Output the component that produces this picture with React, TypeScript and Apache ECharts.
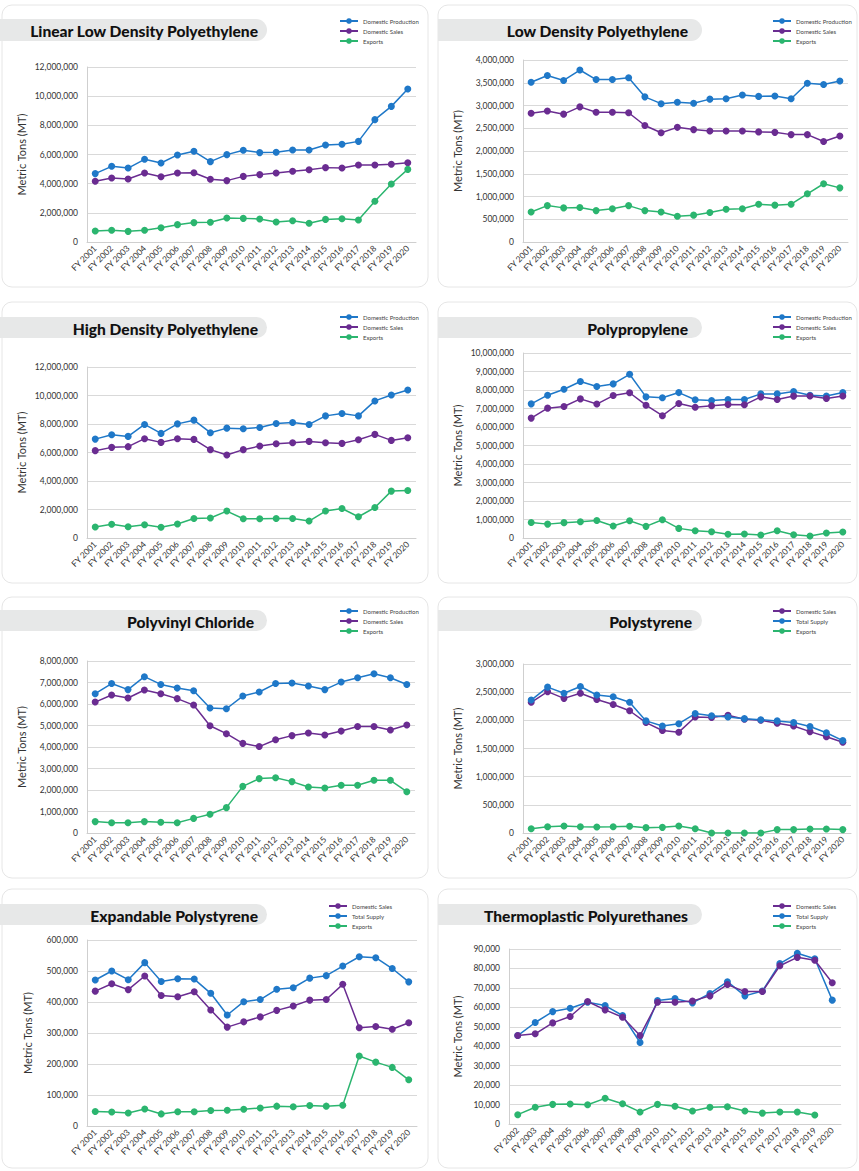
import React, { useEffect, useRef } from "react";
import * as echarts from "echarts";

// ---------- categories ----------
const YEARS_2001_2020 = [
  "FY 2001", "FY 2002", "FY 2003", "FY 2004", "FY 2005", "FY 2006", "FY 2007",
  "FY 2008", "FY 2009", "FY 2010", "FY 2011", "FY 2012", "FY 2013", "FY 2014",
  "FY 2015", "FY 2016", "FY 2017", "FY 2018", "FY 2019", "FY 2020",
];
const YEARS_2002_2020 = YEARS_2001_2020.slice(1);

// ---------- Linear Low Density Polyethylene ----------
const lldpeProduction = [4690000, 5190000, 5070000, 5670000, 5420000, 5970000, 6220000, 5510000, 5990000, 6290000, 6130000, 6150000, 6310000, 6310000, 6650000, 6700000, 6900000, 8390000, 9300000, 10490000];
const lldpeSales = [4160000, 4390000, 4320000, 4730000, 4480000, 4730000, 4750000, 4300000, 4210000, 4500000, 4620000, 4730000, 4850000, 4960000, 5100000, 5070000, 5280000, 5280000, 5330000, 5440000];
const lldpeExports = [750000, 800000, 730000, 800000, 980000, 1190000, 1330000, 1350000, 1650000, 1620000, 1580000, 1370000, 1460000, 1280000, 1550000, 1600000, 1510000, 2790000, 3980000, 4980000];

// ---------- Low Density Polyethylene ----------
const ldpeProduction = [3510000, 3660000, 3550000, 3780000, 3570000, 3570000, 3610000, 3190000, 3040000, 3070000, 3050000, 3140000, 3150000, 3230000, 3200000, 3210000, 3150000, 3490000, 3460000, 3540000];
const ldpeSales = [2830000, 2880000, 2810000, 2970000, 2850000, 2850000, 2840000, 2560000, 2400000, 2520000, 2470000, 2440000, 2440000, 2440000, 2420000, 2410000, 2360000, 2360000, 2210000, 2330000];
const ldpeExports = [660000, 800000, 750000, 760000, 690000, 730000, 800000, 690000, 660000, 565000, 590000, 650000, 720000, 730000, 830000, 810000, 830000, 1060000, 1280000, 1190000];

// ---------- High Density Polyethylene ----------
const hdpeProduction = [6940000, 7250000, 7130000, 7970000, 7340000, 8010000, 8270000, 7390000, 7710000, 7670000, 7760000, 8040000, 8110000, 7970000, 8570000, 8740000, 8570000, 9620000, 10040000, 10390000];
const hdpeSales = [6130000, 6360000, 6410000, 6970000, 6710000, 6970000, 6920000, 6200000, 5820000, 6200000, 6450000, 6620000, 6690000, 6780000, 6690000, 6640000, 6900000, 7270000, 6850000, 7040000];
const hdpeExports = [770000, 960000, 790000, 930000, 750000, 980000, 1370000, 1400000, 1890000, 1350000, 1350000, 1370000, 1370000, 1190000, 1890000, 2070000, 1490000, 2140000, 3290000, 3330000];

// ---------- Polypropylene ----------
const ppProduction = [7250000, 7720000, 8040000, 8460000, 8190000, 8330000, 8850000, 7630000, 7580000, 7860000, 7470000, 7430000, 7490000, 7490000, 7790000, 7790000, 7920000, 7720000, 7680000, 7860000];
const ppSales = [6480000, 7020000, 7110000, 7520000, 7240000, 7700000, 7850000, 7180000, 6610000, 7270000, 7070000, 7150000, 7220000, 7200000, 7630000, 7490000, 7670000, 7680000, 7540000, 7680000];
const ppExports = [840000, 750000, 830000, 880000, 950000, 650000, 930000, 630000, 990000, 520000, 390000, 340000, 200000, 220000, 160000, 390000, 180000, 110000, 270000, 320000];

// ---------- Polyvinyl Chloride ----------
const pvcProduction = [6480000, 6950000, 6670000, 7270000, 6910000, 6740000, 6620000, 5810000, 5780000, 6370000, 6560000, 6950000, 6980000, 6840000, 6670000, 7020000, 7220000, 7410000, 7220000, 6910000];
const pvcSales = [6090000, 6420000, 6280000, 6650000, 6480000, 6250000, 5950000, 4990000, 4620000, 4170000, 4020000, 4340000, 4530000, 4650000, 4560000, 4740000, 4950000, 4950000, 4790000, 5020000];
const pvcExports = [530000, 480000, 480000, 530000, 500000, 480000, 680000, 870000, 1180000, 2170000, 2530000, 2570000, 2390000, 2140000, 2090000, 2220000, 2220000, 2450000, 2450000, 1920000];

// ---------- Polystyrene ----------
const psSales = [2320000, 2510000, 2390000, 2480000, 2370000, 2280000, 2170000, 1960000, 1820000, 1790000, 2060000, 2050000, 2090000, 2020000, 2000000, 1950000, 1900000, 1800000, 1710000, 1610000];
const psSupply = [2360000, 2590000, 2480000, 2600000, 2450000, 2420000, 2320000, 1990000, 1900000, 1940000, 2120000, 2080000, 2060000, 2030000, 2010000, 1990000, 1960000, 1890000, 1780000, 1640000];
const psExports = [77000, 110000, 125000, 110000, 107000, 110000, 120000, 95000, 100000, 125000, 77000, 0, 0, 0, 0, 60000, 60000, 70000, 70000, 60000];

// ---------- Expandable Polystyrene ----------
const epsSales = [435000, 459000, 440000, 484000, 421000, 417000, 433000, 374000, 319000, 336000, 352000, 373000, 387000, 406000, 408000, 457000, 317000, 321000, 312000, 333000];
const epsSupply = [471000, 500000, 472000, 527000, 466000, 475000, 474000, 428000, 358000, 401000, 408000, 441000, 446000, 477000, 485000, 516000, 546000, 543000, 508000, 465000];
const epsExports = [47000, 45000, 42000, 55000, 39000, 46000, 46000, 50000, 51000, 54000, 58000, 64000, 62000, 66000, 64000, 67000, 226000, 206000, 189000, 149000];

// ---------- Thermoplastic Polyurethanes ----------
const tpuSupply = [45500, 52200, 57800, 59500, 62600, 60900, 55800, 41900, 63500, 64500, 62300, 67100, 73200, 65900, 68400, 82500, 87800, 85000, 63700];
const tpuSales = [45500, 46400, 52000, 55300, 63000, 58700, 54900, 45500, 62600, 62600, 63300, 65900, 71700, 68100, 68100, 81400, 85700, 84200, 72600];
const tpuExports = [4800, 8600, 10100, 10300, 9900, 13200, 10400, 6200, 10100, 9100, 6700, 8600, 8900, 6700, 5600, 6200, 6200, 4600, null];

// ---------- panel definitions (data) ----------
const PROD = "Domestic Production";
const SALES = "Domestic Sales";
const SUPPLY = "Total Supply";
const EXPORTS = "Exports";

const PANELS = [
  { title: "Linear Low Density Polyethylene", cats: YEARS_2001_2020, legend: [PROD, SALES, EXPORTS], yMax: 12000000, yStep: 2000000,
    series: [{ name: PROD, data: lldpeProduction }, { name: SALES, data: lldpeSales }, { name: EXPORTS, data: lldpeExports }] },
  { title: "Low Density Polyethylene", cats: YEARS_2001_2020, legend: [PROD, SALES, EXPORTS], yMax: 4000000, yStep: 500000,
    series: [{ name: PROD, data: ldpeProduction }, { name: SALES, data: ldpeSales }, { name: EXPORTS, data: ldpeExports }] },
  { title: "High Density Polyethylene", cats: YEARS_2001_2020, legend: [PROD, SALES, EXPORTS], yMax: 12000000, yStep: 2000000,
    series: [{ name: PROD, data: hdpeProduction }, { name: SALES, data: hdpeSales }, { name: EXPORTS, data: hdpeExports }] },
  { title: "Polypropylene", cats: YEARS_2001_2020, legend: [PROD, SALES, EXPORTS], yMax: 10000000, yStep: 1000000,
    series: [{ name: PROD, data: ppProduction }, { name: SALES, data: ppSales }, { name: EXPORTS, data: ppExports }] },
  { title: "Polyvinyl Chloride", cats: YEARS_2001_2020, legend: [PROD, SALES, EXPORTS], yMax: 8000000, yStep: 1000000,
    series: [{ name: PROD, data: pvcProduction }, { name: SALES, data: pvcSales }, { name: EXPORTS, data: pvcExports }] },
  { title: "Polystyrene", cats: YEARS_2001_2020, legend: [SALES, SUPPLY, EXPORTS], yMax: 3000000, yStep: 500000,
    series: [{ name: SALES, data: psSales }, { name: SUPPLY, data: psSupply }, { name: EXPORTS, data: psExports }] },
  { title: "Expandable Polystyrene", cats: YEARS_2001_2020, legend: [SALES, SUPPLY, EXPORTS], yMax: 600000, yStep: 100000,
    series: [{ name: SALES, data: epsSales }, { name: SUPPLY, data: epsSupply }, { name: EXPORTS, data: epsExports }] },
  { title: "Thermoplastic Polyurethanes", cats: YEARS_2002_2020, legend: [SALES, SUPPLY, EXPORTS], yMax: 90000, yStep: 10000,
    series: [{ name: SUPPLY, data: tpuSupply }, { name: SALES, data: tpuSales }, { name: EXPORTS, data: tpuExports }] },
];

// ---------- layout (positions / sizes) ----------
const LAYOUT = [
  { card: [2, 5, 426, 282], pill: [0, 19, 267, 22], titleX: 258, grid: [87, 67, 329, 175], legend: [339, 18], nameGap: 60 },
  { card: [438, 5, 419, 282], pill: [438, 19, 264, 22], titleX: 688, grid: [523, 60, 325, 182], legend: [772, 18], nameGap: 60 },
  { card: [2, 302, 426, 281], pill: [0, 317, 267, 21], titleX: 258, grid: [87, 367, 329, 171], legend: [339, 314], nameGap: 60 },
  { card: [438, 302, 419, 281], pill: [438, 317, 264, 21], titleX: 688, grid: [523, 353, 328, 185], legend: [772, 314], nameGap: 60 },
  { card: [2, 597, 426, 281], pill: [0, 610, 267, 21], titleX: 254, grid: [87, 661, 328, 172], legend: [339, 608], nameGap: 60 },
  { card: [438, 597, 419, 281], pill: [438, 610, 264, 21], titleX: 692, grid: [523, 664, 328, 169], legend: [772, 608], nameGap: 60 },
  { card: [2, 889, 426, 279], pill: [0, 904, 267, 21], titleX: 258, grid: [87, 940, 330, 186], legend: [328, 903], nameGap: 54 },
  { card: [438, 889, 419, 279], pill: [438, 904, 264, 21], titleX: 688, grid: [509, 949, 332, 175], legend: [772, 903], nameGap: 46 },
];

const COLORS: Record<string, string> = {
  [PROD]: "#1f78c8",
  [SUPPLY]: "#1f78c8",
  [SALES]: "#6a2c91",
  [EXPORTS]: "#2bb56f",
};

const FONT = "Lato, 'Open Sans', sans-serif";
const GRID_COLOR = "#d9d9d9";

function fmt(v: number) {
  return String(Math.round(v)).replace(/\B(?=(\d{3})+(?!\d))/g, ",");
}

function buildOption() {
  const grid: any[] = [];
  const xAxis: any[] = [];
  const yAxis: any[] = [];
  const series: any[] = [];
  const legend: any[] = [];
  const graphic: any[] = [];

  PANELS.forEach((p, i) => {
    const L = LAYOUT[i];
    grid.push({ left: L.grid[0], top: L.grid[1], width: L.grid[2], height: L.grid[3], containLabel: false });
    xAxis.push({
      type: "category",
      gridIndex: i,
      data: p.cats,
      boundaryGap: true,
      axisTick: { show: false },
      axisLine: { show: true, lineStyle: { color: "#cfcfcf", width: 1 } },
      axisLabel: { rotate: 45, interval: 0, fontSize: 8.5, color: "#333", fontFamily: FONT, margin: 5 },
    });
    yAxis.push({
      type: "value",
      gridIndex: i,
      min: 0,
      max: p.yMax,
      interval: p.yStep,
      name: "Metric Tons (MT)",
      nameLocation: "middle",
      nameGap: L.nameGap,
      nameTextStyle: { fontSize: 11, color: "#333", fontFamily: FONT },
      axisLine: { show: true, lineStyle: { color: "#cfcfcf", width: 1 } },
      axisTick: { show: false },
      splitLine: { show: true, lineStyle: { color: GRID_COLOR, width: 1 } },
      axisLabel: { fontSize: 8.5, color: "#333", fontFamily: FONT, margin: 9, formatter: (v: number) => fmt(v) },
    });
    p.series.forEach((s) => {
      series.push({
        type: "line",
        name: s.name,
        xAxisIndex: i,
        yAxisIndex: i,
        data: s.data,
        symbol: "circle",
        symbolSize: 7,
        showSymbol: true,
        connectNulls: false,
        lineStyle: { width: 1.5, color: COLORS[s.name] },
        itemStyle: { color: COLORS[s.name] },
        emphasis: { disabled: true },
      });
    });
    legend.push({
      orient: "vertical",
      left: L.legend[0],
      top: L.legend[1],
      padding: 0,
      data: p.legend,
      itemWidth: 18,
      itemHeight: 7,
      itemGap: 4,
      selectedMode: false,
      textStyle: { fontSize: 6, color: "#444", fontFamily: FONT },
    });
    graphic.push({
      type: "rect",
      z: -10,
      silent: true,
      shape: { x: L.card[0], y: L.card[1], width: L.card[2], height: L.card[3], r: 10 },
      style: { fill: "none", stroke: "#e6e6e6", lineWidth: 1 },
    });
    graphic.push({
      type: "rect",
      z: -5,
      silent: true,
      shape: { x: L.pill[0], y: L.pill[1], width: L.pill[2], height: L.pill[3], r: [0, 11, 11, 0] },
      style: { fill: "#e7e8e8" },
    });
    graphic.push({
      type: "text",
      z: 10,
      silent: true,
      x: L.titleX,
      y: L.pill[1] + L.pill[3] / 2 + 1,
      style: {
        text: p.title,
        align: "right",
        verticalAlign: "middle",
        fontSize: 15.6,
        fontWeight: 900,
        fontFamily: FONT,
        fill: "#111",
      },
    });
  });

  return {
    animation: false,
    backgroundColor: "#ffffff",
    grid,
    xAxis,
    yAxis,
    series,
    legend,
    graphic,
    tooltip: { show: false },
  };
}

export default function App() {
  const ref = useRef<HTMLDivElement>(null);
  useEffect(() => {
    if (!ref.current) return;
    const chart = echarts.init(ref.current, undefined, { renderer: "svg" });
    chart.setOption(buildOption() as any);
    return () => chart.dispose();
  }, []);
  return (
    <div
      ref={ref}
      style={{ position: "absolute", left: 0, top: 0, width: 859, height: 1171, background: "#fff" }}
    />
  );
}
